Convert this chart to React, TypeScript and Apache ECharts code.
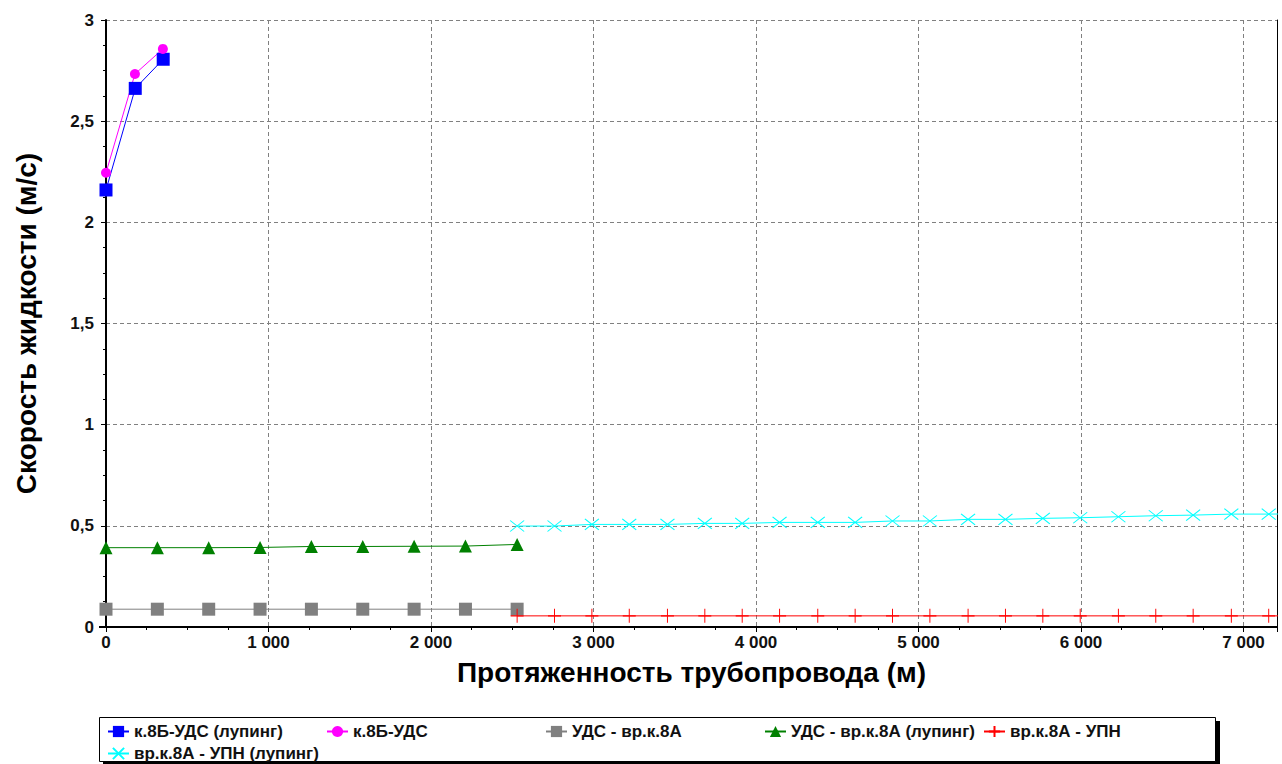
import React, { useEffect, useRef } from "react";
import * as echarts from "echarts";

const seriesNames = [
  "к.8Б-УДС (лупинг)",
  "к.8Б-УДС",
  "УДС - вр.к.8А",
  "УДС - вр.к.8А (лупинг)",
  "вр.к.8А - УПН",
  "вр.к.8А - УПН (лупинг)",
];

const blueX = [0, 180, 352];
const blueY = [2.16, 2.662, 2.806];
const magentaX = [0, 178, 350];
const magentaY = [2.245, 2.733, 2.857];

const grayX = [0, 316, 632, 948, 1264, 1580, 1896, 2212, 2530];
const grayY = [0.088, 0.088, 0.088, 0.088, 0.088, 0.088, 0.088, 0.088, 0.088];
const greenY = [0.392, 0.392, 0.392, 0.393, 0.398, 0.398, 0.399, 0.4, 0.408];

const tailX = [2530, 2760, 2990, 3220, 3455, 3685, 3915, 4145, 4380, 4610, 4840, 5070, 5305, 5535, 5765, 5995, 6230, 6460, 6690, 6925, 7155, 7385];
const cyanY = [0.499, 0.499, 0.507, 0.507, 0.507, 0.512, 0.512, 0.517, 0.517, 0.517, 0.524, 0.524, 0.532, 0.532, 0.537, 0.54, 0.545, 0.55, 0.553, 0.558, 0.558, 0.56];
const redY = [0.055, 0.055, 0.055, 0.055, 0.055, 0.055, 0.055, 0.055, 0.055, 0.055, 0.055, 0.055, 0.055, 0.055, 0.055, 0.055, 0.055, 0.055, 0.055, 0.055, 0.055, 0.055];

const xTitle = "Протяженность трубопровода (м)";
const yTitle = "Скорость жидкости (м/с)";

const zip = (xs: number[], ys: number[]) => xs.map((x, i) => [x, ys[i]]);

const legendPos = [
  { left: 107, top: 723 },
  { left: 326, top: 723 },
  { left: 545, top: 723 },
  { left: 764, top: 723 },
  { left: 983, top: 723 },
  { left: 107, top: 745 },
];

export default function App() {
  const ref = useRef<HTMLDivElement>(null);
  useEffect(() => {
    if (!ref.current) return;
    const chart = echarts.init(ref.current, null, { renderer: "svg" });
    const font = "'Liberation Sans', Arial, sans-serif";
    const narrow = "'Liberation Sans Narrow', 'Liberation Sans', Arial, sans-serif";
    const lineSeries = (name: string, data: number[][], color: string, symbol: string, size: number | number[], extra: any = {}) => ({
      name,
      type: "line",
      data,
      symbol,
      symbolSize: size,
      lineStyle: { color, width: 1 },
      itemStyle: { color, borderColor: color, borderWidth: 0 },
      ...extra,
    });
    const crossStyle = (color: string) => ({
      itemStyle: { color: "none", borderColor: color, borderWidth: 1 },
    });
    chart.setOption({
      animation: false,
      backgroundColor: "#fff",
      textStyle: { fontFamily: font },
      grid: { left: 106, right: 5, top: 20, bottom: 137, show: false },
      xAxis: {
        type: "value",
        min: 0,
        max: 7206,
        interval: 1000,
        name: xTitle,
        nameLocation: "middle",
        nameGap: 31,
        nameTextStyle: { fontSize: 28, fontWeight: "bold", color: "#000", fontFamily: font },
        axisLine: { show: true, lineStyle: { color: "#000", width: 2 } },
        axisTick: { show: true, length: 5, lineStyle: { color: "#000" } },
        minorTick: { show: true, splitNumber: 4, length: 3, lineStyle: { color: "#000" } },
        axisLabel: {
          showMaxLabel: false,
          margin: 7,
          fontSize: 17,
          fontWeight: "bold",
          color: "#111",
          fontFamily: narrow,
          formatter: (v: number) => String(v).replace(/\B(?=(\d{3})+(?!\d))/g, " "),
        },
        splitLine: { show: true, lineStyle: { color: "#808080", type: [4, 3], width: 1 } },
      },
      yAxis: [
        {
          type: "value",
          min: 0,
          max: 3,
          interval: 0.5,
          offset: 7,
          name: yTitle,
          nameLocation: "middle",
          nameGap: 59,
          nameTextStyle: { fontSize: 28, fontWeight: "bold", color: "#000", fontFamily: font },
          axisLine: { show: true, lineStyle: { color: "#000", width: 2 } },
          axisTick: { show: true, length: 5, lineStyle: { color: "#000" } },
          minorTick: { show: true, splitNumber: 4, length: 3, lineStyle: { color: "#000" } },
          axisLabel: {
            margin: 5,
            fontSize: 17,
            fontWeight: "bold",
            color: "#111",
            fontFamily: narrow,
            formatter: (v: number) => String(v).replace(".", ","),
          },
          splitLine: { show: true, lineStyle: { color: "#808080", type: [4, 3], width: 1 } },
        },
        {
          type: "value",
          min: 0,
          max: 3,
          position: "right",
          axisLine: { show: true, lineStyle: { color: "#000", width: 1 } },
          axisTick: { show: false },
          axisLabel: { show: false },
          splitLine: { show: false },
        },
      ],
      legend: seriesNames.map((n, i) => ({
        data: [n],
        left: legendPos[i].left,
        top: legendPos[i].top,
        padding: 0,
        itemGap: 0,
        itemWidth: 21,
        itemHeight: 14,
        z: 10,
        selectedMode: false,
        textStyle: { fontSize: 17, fontWeight: "bold", color: "#111", fontFamily: font, padding: [0, 0, 0, 0] },
      })),
      graphic: [
        { type: "rect", z: 1, shape: { x: 103, y: 721, width: 1117, height: 45 }, style: { fill: "#000" } },
        { type: "rect", z: 2, shape: { x: 99.5, y: 717.5, width: 1116, height: 44 }, style: { fill: "#fff", stroke: "#000", lineWidth: 1 } },
        { type: "line", z: 3, shape: { x1: 99, y1: 627, x2: 106, y2: 627 }, style: { stroke: "#000", lineWidth: 2 } },
      ],
      series: [
        lineSeries(seriesNames[0], zip(blueX, blueY), "#0000ff", "rect", 13),
        lineSeries(seriesNames[1], zip(magentaX, magentaY), "#ff00ff", "circle", 10),
        lineSeries(seriesNames[2], zip(grayX, grayY), "#808080", "rect", 13),
        lineSeries(seriesNames[3], zip(grayX, greenY), "#008000", "triangle", 13),
        lineSeries(seriesNames[4], zip(tailX, redY), "#ff0000", "path://M5,0L5,10M0,5L10,5", [13, 14], crossStyle("#ff0000")),
        lineSeries(seriesNames[5], zip(tailX, cyanY), "#00ffff", "path://M0,0L10,10M10,0L0,10", [14, 11], crossStyle("#00ffff")),
      ],
    });
    return () => chart.dispose();
  }, []);
  return <div ref={ref} style={{ width: 1282, height: 764, position: "absolute", left: 0, top: 0 }} />;
}
